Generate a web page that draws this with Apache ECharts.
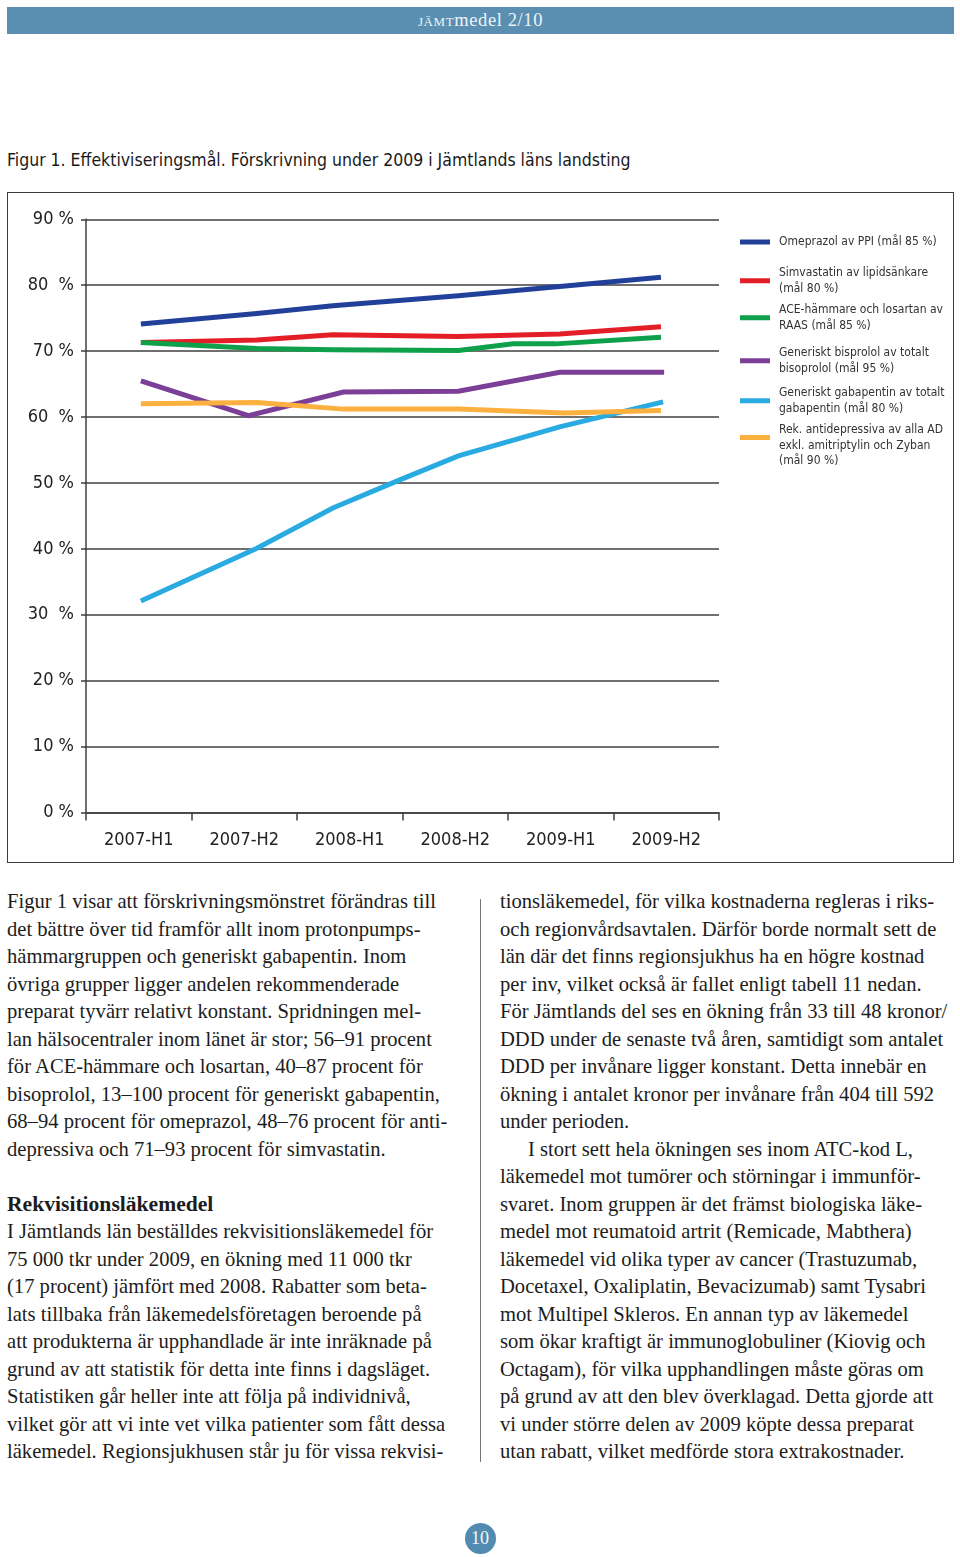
<!DOCTYPE html>
<html>
<head>
<meta charset="utf-8">
<script src="https://cdn.jsdelivr.net/npm/echarts@6/dist/echarts.min.js"></script>
<style>
  html, body { margin: 0; padding: 0; background: #fff; }
  body { width: 960px; height: 1557px; position: relative; overflow: hidden; }
  #header { position: absolute; left: 7px; top: 7px; width: 947px; height: 27px; background: #5a8fb1;
            color: #eef3f8; font-family: 'Liberation Serif', serif; font-size: 18.5px; text-align: center; line-height: 27px; letter-spacing: 0.6px; }
  #caption { position: absolute; left: 7px; top: 150px; font-family: 'DejaVu Sans Condensed', 'DejaVu Sans', sans-serif;
             font-size: 17.5px; color: #1a1a1a; white-space: nowrap; }
  #chart { position: absolute; left: 7px; top: 192px; width: 946px; height: 670px; }
  #frame { position: absolute; left: 7px; top: 192px; width: 947px; height: 671px; box-sizing: border-box;
           border: 1.5px solid #3c3c3c; pointer-events: none; }
  .col { position: absolute; top: 888px; font-family: 'Liberation Serif', serif; font-size: 20.6px; line-height: 27.5px; color: #1c1c1c; }
  .col div { white-space: nowrap; height: 27.5px; }
  #left { left: 7px; }
  #right { left: 500px; }
  .h { font-weight: bold; font-size: 21.6px; }
  #divider { position: absolute; left: 480px; top: 899px; width: 1px; height: 563px; background: #777; }
  #pagenum { position: absolute; left: 464.5px; top: 1522.5px; width: 31px; height: 31px; border-radius: 50%;
             background: #528bb0; color: #f4f7fa; font-family: 'Liberation Serif', serif; font-size: 18px; line-height: 31px; text-align: center; }
</style>
</head>
<body>
<div id="header"><span style="font-variant: small-caps;">jämt</span>medel 2/10</div>
<div id="caption">Figur 1. Effektiviseringsmål. Förskrivning under 2009 i Jämtlands läns landsting</div>
<div id="chart"></div>
<div id="frame"></div>

<div class="col" id="left">
<div>Figur 1 visar att förskrivningsmönstret förändras till</div>
<div>det bättre över tid framför allt inom protonpumps-</div>
<div>hämmargruppen och generiskt gabapentin. Inom</div>
<div>övriga grupper ligger andelen rekommenderade</div>
<div>preparat tyvärr relativt konstant. Spridningen mel-</div>
<div>lan hälsocentraler inom länet är stor; 56–91 procent</div>
<div>för ACE-hämmare och losartan, 40–87 procent för</div>
<div>bisoprolol, 13–100 procent för generiskt gabapentin,</div>
<div>68–94 procent för omeprazol, 48–76 procent för anti-</div>
<div>depressiva och 71–93 procent för simvastatin.</div>
<div></div>
<div class="h">Rekvisitionsläkemedel</div>
<div>I Jämtlands län beställdes rekvisitionsläkemedel för</div>
<div>75 000 tkr under 2009, en ökning med 11 000 tkr</div>
<div>(17 procent) jämfört med 2008. Rabatter som beta-</div>
<div>lats tillbaka från läkemedelsföretagen beroende på</div>
<div>att produkterna är upphandlade är inte inräknade på</div>
<div>grund av att statistik för detta inte finns i dagsläget.</div>
<div>Statistiken går heller inte att följa på individnivå,</div>
<div>vilket gör att vi inte vet vilka patienter som fått dessa</div>
<div>läkemedel. Regionsjukhusen står ju för vissa rekvisi-</div>
</div>
<div id="divider"></div>
<div class="col" id="right">
<div>tionsläkemedel, för vilka kostnaderna regleras i riks-</div>
<div>och regionvårdsavtalen. Därför borde normalt sett de</div>
<div>län där det finns regionsjukhus ha en högre kostnad</div>
<div>per inv, vilket också är fallet enligt tabell 11 nedan.</div>
<div>För Jämtlands del ses en ökning från 33 till 48 kronor/</div>
<div>DDD under de senaste två åren, samtidigt som antalet</div>
<div>DDD per invånare ligger konstant. Detta innebär en</div>
<div>ökning i antalet kronor per invånare från 404 till 592</div>
<div>under perioden.</div>
<div style="padding-left: 28px;">I stort sett hela ökningen ses inom ATC-kod L,</div>
<div>läkemedel mot tumörer och störningar i immunför-</div>
<div>svaret. Inom gruppen är det främst biologiska läke-</div>
<div>medel mot reumatoid artrit (Remicade, Mabthera)</div>
<div>läkemedel vid olika typer av cancer (Trastuzumab,</div>
<div>Docetaxel, Oxaliplatin, Bevacizumab) samt Tysabri</div>
<div>mot Multipel Skleros. En annan typ av läkemedel</div>
<div>som ökar kraftigt är immunoglobuliner (Kiovig och</div>
<div>Octagam), för vilka upphandlingen måste göras om</div>
<div>på grund av att den blev överklagad. Detta gjorde att</div>
<div>vi under större delen av 2009 köpte dessa preparat</div>
<div>utan rabatt, vilket medförde stora extrakostnader.</div>
</div>
<div id="pagenum">10</div>

<script>
// ---- data ----
var categories = ['2007-H1', '2007-H2', '2008-H1', '2008-H2', '2009-H1', '2009-H2'];
var yTickLabels = ['0 %', '10 %', '20 %', '30\u00a0 %', '40 %', '50 %', '60\u00a0 %', '70 %', '80\u00a0 %', '90 %'];

var seriesNames = [
  'Omeprazol av PPI (mål 85 %)',
  'Simvastatin av lipidsänkare\n(mål 80 %)',
  'ACE-hämmare och losartan av\nRAAS (mål 85 %)',
  'Generiskt bisprolol av totalt\nbisoprolol (mål 95 %)',
  'Generiskt gabapentin av totalt\ngabapentin (mål 80 %)',
  'Rek. antidepressiva av alla AD\nexkl. amitriptylin och Zyban\n(mål 90 %)'
];

// x positions in category units (0..6, category centres at .5), y in percent
var omeprazolX = [0.52, 1.62, 2.34, 3.53, 4.49, 5.45];
var omeprazolY = [74.1, 75.7, 76.9, 78.4, 79.8, 81.2];

var simvastatinX = [0.52, 1.62, 2.34, 3.53, 4.49, 5.45];
var simvastatinY = [71.3, 71.7, 72.5, 72.2, 72.6, 73.7];

var aceX = [0.52, 1.62, 2.34, 3.53, 4.05, 4.45, 5.45];
var aceY = [71.3, 70.4, 70.2, 70.1, 71.1, 71.1, 72.1];

var bisoprololX = [0.52, 1.54, 2.44, 3.53, 4.49, 5.48];
var bisoprololY = [65.5, 60.2, 63.8, 63.9, 66.8, 66.8];

var gabapentinX = [0.52, 1.62, 2.34, 2.98, 3.53, 4.49, 5.47];
var gabapentinY = [32.1, 40.1, 46.2, 50.5, 54.1, 58.5, 62.3];

var antidepX = [0.52, 1.62, 2.44, 3.53, 4.53, 5.45];
var antidepY = [62.0, 62.2, 61.2, 61.2, 60.6, 61.0];

var seriesColors = ['#22409a', '#e31e26', '#0fa04b', '#7b3f98', '#29abe2', '#fbb040'];

var seriesXs = [omeprazolX, simvastatinX, aceX, bisoprololX, gabapentinX, antidepX];
var seriesYs = [omeprazolY, simvastatinY, aceY, bisoprololY, gabapentinY, antidepY];

// ---- chart ----
var chart = echarts.init(document.getElementById('chart'), null, { renderer: 'canvas' });
var FONT = "'DejaVu Sans Condensed', 'DejaVu Sans', sans-serif";
var axisColor = '#3f3f3f';

var series = seriesNames.map(function (name, i) {
  return {
    name: name,
    type: 'line',
    xAxisIndex: 1,
    data: seriesXs[i].map(function (x, j) { return [x, seriesYs[i][j]]; }),
    showSymbol: false,
    symbol: 'none',
    lineStyle: { width: 5, color: seriesColors[i], cap: 'butt', join: 'miter' },
    itemStyle: { color: seriesColors[i] },
    animation: false
  };
});

// legend swatch for the three-line item sits beside its first two lines
var tallSwatch = 'path://M0,0L30,0L30,5L0,5Z M0,21L0.01,21L0.01,21Z';
var legendTops = [42.25, 73.25, 110.25, 153.25, 193.25, 230.25];
var legends = seriesNames.map(function (name, i) {
  return {
    data: [name],
    orient: 'vertical',
    left: 733,
    top: legendTops[i],
    padding: 0,
    icon: i === 5 ? tallSwatch : 'rect',
    itemWidth: 30,
    itemHeight: i === 5 ? 21 : 5,
    selectedMode: false,
    textStyle: {
      fontFamily: FONT, fontSize: 12, color: '#333', lineHeight: 15.5,
      padding: [0, 0, 0, 4]
    }
  };
});

chart.setOption({
  animation: false,
  grid: { left: 79, right: 234, top: 27.3, bottom: 49.5, containLabel: false },
  legend: legends,
  xAxis: [
    {
      type: 'category',
      data: categories,
      boundaryGap: true,
      axisLine: { show: true, lineStyle: { color: axisColor, width: 1.5 } },
      axisTick: { show: true, length: 8, lineStyle: { color: axisColor, width: 1.5 } },
      axisLabel: { fontFamily: FONT, fontSize: 18, color: '#222', margin: 19 },
      splitLine: { show: false }
    },
    {
      type: 'value',
      min: 0, max: 6,
      show: false
    }
  ],
  yAxis: {
    type: 'value',
    min: 0, max: 90, interval: 10,
    axisLine: { show: true, lineStyle: { color: axisColor, width: 1.5 } },
    axisTick: { show: true, length: 5, lineStyle: { color: axisColor, width: 1.5 } },
    splitLine: { show: true, lineStyle: { color: axisColor, width: 1.5 } },
    axisLabel: {
      fontFamily: FONT, fontSize: 18, color: '#222', margin: 12,
      formatter: function (v) { return yTickLabels[Math.round(v / 10)]; }
    }
  },
  series: series
});
</script>
</body>
</html>
